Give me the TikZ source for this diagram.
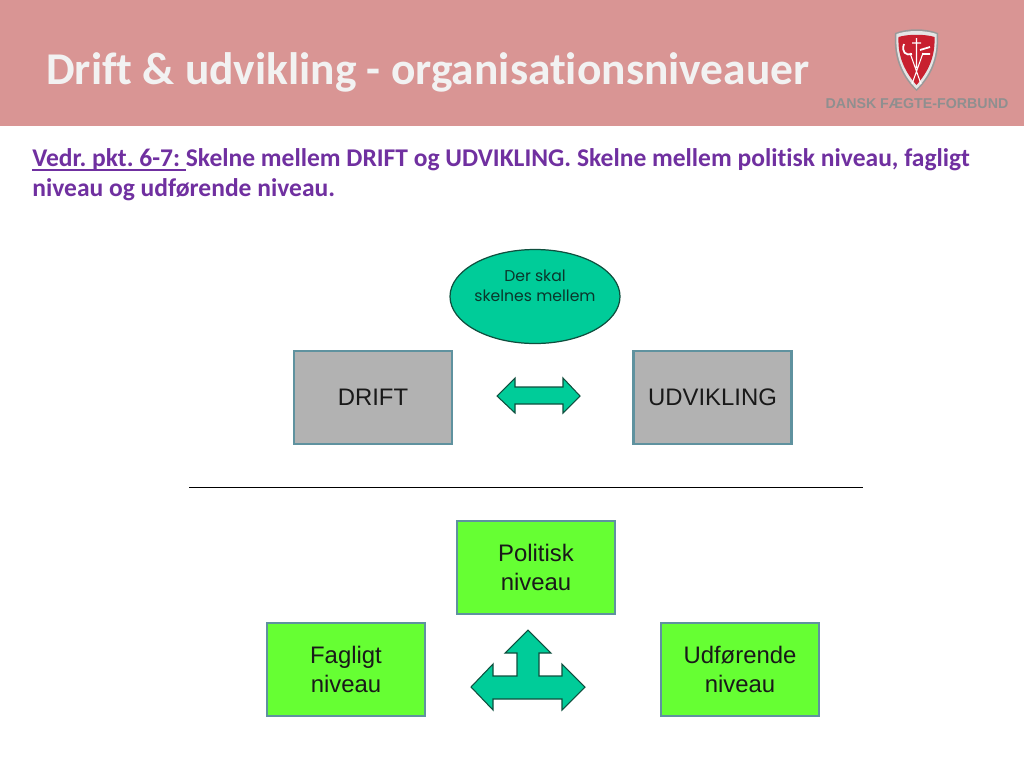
\documentclass[tikz,border=0pt]{standalone}
\usepackage{fontspec}
\setmainfont[Ligatures=NoCommon]{Carlito}
\newfontfamily\arialfont{Liberation Sans}
\newfontfamily\roundfont{Poppins}
\usetikzlibrary{shapes.geometric}
\definecolor{headerrose}{HTML}{D99594}
\definecolor{titlewhite}{HTML}{F2F2F2}
\definecolor{bodypurple}{HTML}{7030A0}
\definecolor{arrowgreen}{HTML}{00CC99}
\definecolor{arrowedge}{HTML}{0F4F3E}
\definecolor{boxgray}{HTML}{B2B2B2}
\definecolor{boxgreen}{HTML}{66FF33}
\definecolor{boxedge}{HTML}{5F929F}
\definecolor{shieldred}{HTML}{C8202F}
\definecolor{logogray}{HTML}{8F8F8F}
\tikzset{
	levelbox/.style={draw=boxedge, line width=1.6pt, minimum width=.02cm*158, minimum height=.02cm*93, align=center, font=\arialfont\fontsize{13.6}{16.6}\selectfont, text=black!90},
	graybox/.style={levelbox, fill=boxgray},
	greenbox/.style={levelbox, fill=boxgreen},
	blockarrow/.style={draw=arrowedge, fill=arrowgreen, line width=.6pt, line join=miter},
	bodyline/.style={anchor=base west, inner sep=0pt, text=bodypurple, font=\frenchspacing\bfseries\fontsize{14.53}{17}\selectfont}
}
\begin{document}
\begin{tikzpicture}[x=.02cm, y=-.02cm]
\useasboundingbox (0,0) rectangle (1024,768);
\fill[headerrose] (0,0) rectangle (1024,126);
\node[anchor=base west, inner sep=0pt, text=titlewhite, font=\bfseries\fontsize{25.87}{30}\selectfont] (title) at (46,84) {Drift \& udvikling - organisationsniveauer};
% logo
\fill[black!40] (895,33) .. controls (908,28) and (925,28) .. (938,33) .. controls (940,60) and (930,78) .. (916.5,91) .. controls (903,78) and (893,60) .. (895,33) -- cycle;
\fill[white!90!black] (896.5,34) .. controls (908,30) and (925,30) .. (936.5,34) .. controls (938,59) and (929,76) .. (916.5,89) .. controls (904,76) and (895,59) .. (896.5,34) -- cycle;
\fill[shieldred] (898.5,37) .. controls (908,34) and (925,34) .. (934.5,37) .. controls (935.5,58) and (927,73) .. (916.5,85) .. controls (906,73) and (897.5,58) .. (898.5,37) -- cycle;
\draw[white, line width=.6pt] (916.5,38) -- (916.5,68) (912,43) -- (921,43) (910,53) -- (921,84) (923,53) -- (912,84);
\draw[white, line width=1pt] (904,44) .. controls (901,52) and (906,56) .. (912,54);
\draw[white, line width=1pt] (920,50) -- (930,47) (922,54) -- (930,54);
\node[anchor=base, inner sep=0pt, text=logogray, font=\arialfont\bfseries\fontsize{8.1}{10}\selectfont] (logotext) at (917,108) {DANSK FÆGTE-FORBUND};
% text
\node[bodyline] (lineone) at (32,166) {\textcolor{bodypurple}{\vtop{\hbox{Vedr. pkt. 6-7: }\kern-.6pt\hrule height .9pt}}Skelne mellem DRIFT og UDVIKLING. Skelne mellem politisk niveau, fagligt};
\node[bodyline] (linetwo) at (32,196) {niveau og udførende niveau.};
% upper part
\node[ellipse, draw=arrowedge, fill=arrowgreen, line width=.7pt, minimum width=.02cm*170, minimum height=.02cm*94, inner sep=0pt] (skelnes) at (535,296.5) {};
\node[align=center, inner sep=0pt, font=\roundfont\fontsize{8.9}{11.4}\selectfont, text=arrowedge!70!black] (skelnestext) at (535,286) {Der skal\\skelnes mellem};
\node[graybox] (drift) at (373,397.5) {DRIFT};
\node[graybox] (udvikling) at (712.5,397.5) {UDVIKLING};
\draw[blockarrow] (497,396) -- (515,378) -- (515,387) -- (563,387) -- (563,378) -- (580,396) -- (563,413) -- (563,404) -- (515,404) -- (515,413) -- cycle;
\coordinate (ruleleft) at (189,487.5);
\coordinate (ruleright) at (863,487.5);
\draw[line width=.5pt] (ruleleft) -- (ruleright);
% lower part
\node[greenbox] (politisk) at (536,567.5) {Politisk\\niveau};
\node[greenbox] (fagligt) at (346,669.5) {Fagligt\\niveau};
\node[greenbox] (udforende) at (740,669.5) {Udførende\\niveau};
\draw[blockarrow] (528,630) -- (551,653) -- (539,653) -- (539,676) -- (562,676) -- (562,664) -- (585,687) -- (562,710) -- (562,699) -- (493,699) -- (493,710) -- (471,687) -- (493,664) -- (493,676) -- (517,676) -- (517,653) -- (505,653) -- cycle;
\end{tikzpicture}
\end{document}
